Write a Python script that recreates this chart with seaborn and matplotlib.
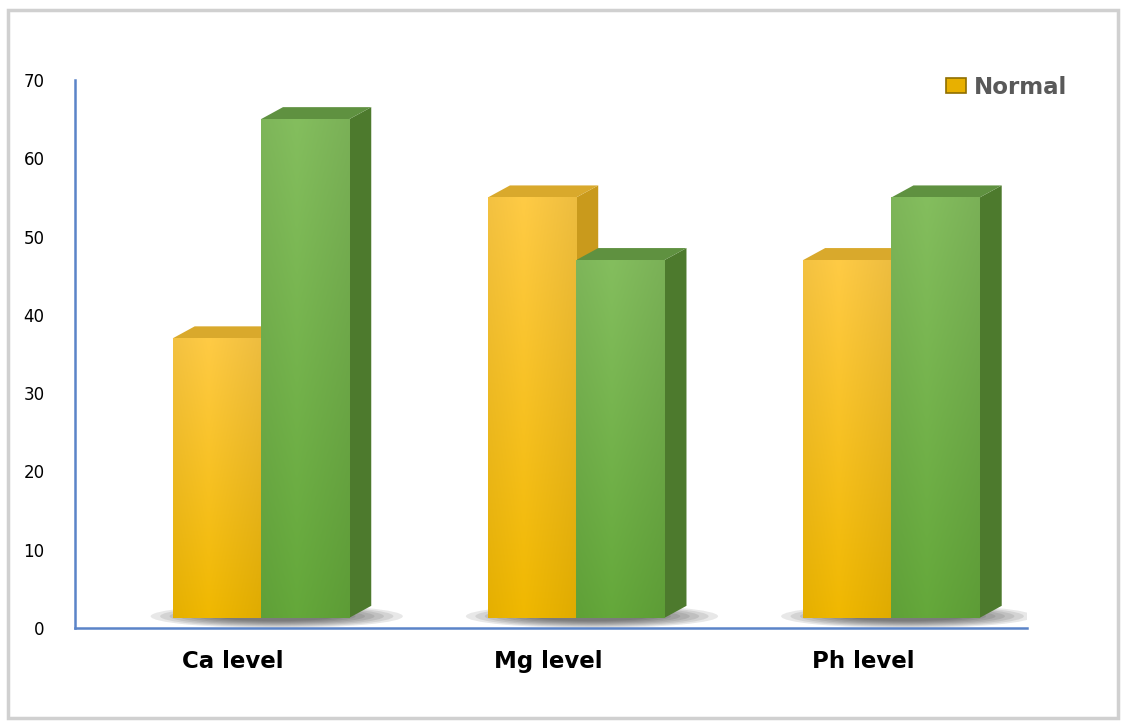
import numpy as np
import pandas as pd
import matplotlib
matplotlib.use("Agg")
import matplotlib.pyplot as plt
import seaborn as sns
from matplotlib.patches import Polygon, Patch, Rectangle, Ellipse
from matplotlib.colors import to_rgb
import matplotlib.transforms as mtransforms

categories = ["Ca level", "Mg level", "Ph level"]
normal_values = [37, 55, 47]
other_values = [65, 47, 55]
series_names = ["Normal", "Other"]
yticks = [0, 10, 20, 30, 40, 50, 60, 70]

df = pd.DataFrame({
    "category": categories * 2,
    "group": [series_names[0]] * 3 + [series_names[1]] * 3,
    "value": normal_values + other_values,
})

sns.set_theme(style="white")
plt.rcParams["font.family"] = ["DejaVu Sans"]

fig = plt.figure(figsize=(11.28, 7.26), dpi=100)
ax = fig.add_axes([75 / 1128, 1 - 628 / 726, (1027 - 75) / 1128, (628 - 80) / 726])

front_cols = {"Normal": ("#FFCB45", "#F0B800"), "Other": ("#84BE5E", "#64A83A")}
side_cols = {"Normal": "#C99A1C", "Other": "#4D7A2D"}
top_cols = {"Normal": "#D9A92C", "Other": "#5F9140"}

sns.barplot(data=df, x="category", y="value", hue="group",
            palette={"Normal": "#FFC000", "Other": "#70AD47"},
            width=0.56, dodge=True, legend=False, ax=ax, saturation=1)

ax.set_ylim(0, 70)
ax.set_xlim(-0.59, 2.43)
fig.canvas.draw()

# depth in data units
px_per_x = (1027 - 75) / (2.43 + 0.59)
px_per_y = (628 - 80) / 70
dx = 22 / px_per_x
dy = 12 / px_per_y
base = 1.3

patches = list(ax.patches)
groups = [series_names[0]] * 3 + [series_names[1]] * 3

# soft shadows under each category group
for i in range(len(categories)):
    for k in range(8):
        f = 1 - k / 8
        sh = Ellipse((i + 0.05, 1.5), 0.32 + 0.48 * f, 1.0 + 2.0 * f,
                     facecolor="#202020", alpha=0.10, edgecolor="none", zorder=0.5)
        ax.add_patch(sh)

for p, g in zip(patches, groups):
    x0 = p.get_x()
    w = p.get_width()
    x1 = x0 + w
    h = p.get_height()
    side = Polygon([(x1, base), (x1 + dx, base + dy), (x1 + dx, h + dy), (x1, h)],
                   closed=True, facecolor=side_cols[g], edgecolor="none", zorder=1)
    top = Polygon([(x0, h), (x0 + dx, h + dy), (x1 + dx, h + dy), (x1, h)],
                  closed=True, facecolor=top_cols[g], edgecolor="none", zorder=1)
    ax.add_patch(side)
    ax.add_patch(top)
    p.set_zorder(2)
    p.set_edgecolor("none")
    p.set_facecolor("none")
    # gradient on the front face
    c_top = np.array(to_rgb(front_cols[g][0]))
    c_bot = np.array(to_rgb(front_cols[g][1]))
    t = np.linspace(0, 1, 200)[:, None]
    grad = c_top[None, :] * (1 - t) + c_bot[None, :] * t
    xs = np.linspace(0, 1, 50)[None, :]
    shade = 1.0 - 0.07 * np.abs(xs - 0.4) / 0.6
    img = grad[:, None, :] * shade[:, :, None]
    img = np.clip(img, 0, 1)
    im = ax.imshow(img, extent=(x0, x1, base, h), origin="upper", aspect="auto",
                   zorder=2.1, interpolation="bilinear")
    im.set_clip_path(p)

ax.set_xlim(-0.59, 2.43)
ax.set_ylim(0, 70)

# axes styling
for s in ["top", "right"]:
    ax.spines[s].set_visible(False)
for s in ["left", "bottom"]:
    ax.spines[s].set_color("#5B84C8")
    ax.spines[s].set_linewidth(1.8)
    ax.spines[s].set_zorder(3)
ax.set_yticks(yticks)
ax.set_yticklabels([str(v) for v in yticks], fontsize=12, color="#000000")
ax.tick_params(axis="y", length=0, pad=22)
ax.tick_params(axis="x", length=0, pad=16)
ax.set_xlabel("")
ax.set_ylabel("")
for lab in ax.get_xticklabels():
    lab.set_fontfamily(["DejaVu Sans"])
    lab.set_fontweight("bold")
    lab.set_fontsize(16.5)
    lab.set_color("#000000")
    lab.set_transform(lab.get_transform() +
                      mtransforms.ScaledTranslation(-28 / 100, 0, fig.dpi_scale_trans))
ax.grid(False)

# legend (only Normal shown)
handle = Patch(facecolor="#E8B000", edgecolor="#8F6E00", linewidth=1.2, label="Normal")
leg = fig.legend(handles=[handle], loc="center left",
                 bbox_to_anchor=(925 / 1128, 1 - 87 / 726), frameon=False,
                 prop={"weight": "bold", "size": 16.5, "family": "DejaVu Sans"},
                 handlelength=0.9, handleheight=0.6, handletextpad=0.35)
for t in leg.get_texts():
    t.set_color("#595959")

# outer frame
frame = Rectangle((8 / 1128, 8 / 726), (1118 - 8) / 1128, (716 - 8) / 726,
                  transform=fig.transFigure, facecolor="none",
                  edgecolor="#D0D0D0", linewidth=2.5, zorder=-1)
fig.patches.append(frame)

fig.savefig("out.png", dpi=100)
